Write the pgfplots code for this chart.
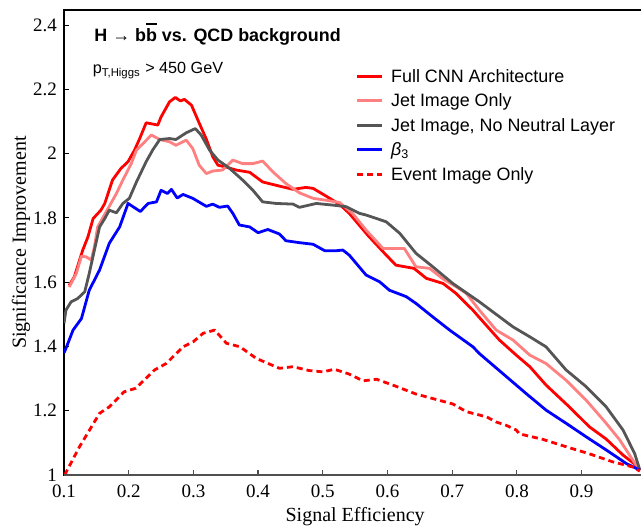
\documentclass[border=0pt]{standalone}
\usepackage{fontspec}
\setmainfont{Liberation Serif}
\newfontfamily\sans{Liberation Sans}
\usepackage{pgfplots}
\pgfplotsset{compat=1.18}
\definecolor{cred}{RGB}{255,0,0}
\definecolor{cpink}{RGB}{255,128,128}
\definecolor{cgray}{RGB}{85,85,85}
\definecolor{cblue}{RGB}{0,0,255}
\definecolor{caxis}{RGB}{80,80,80}

\begin{document}
\begin{tikzpicture}
\begin{axis}[
  scale only axis, width=291.15pt, height=232.5pt,
  xmin=0.1, xmax=1.0, ymin=1, ymax=2.447,
  xtick={0.1,0.2,0.3,0.4,0.5,0.6,0.7,0.8,0.9},
  ytick={1,1.2,1.4,1.6,1.8,2,2.2,2.4},
  xtick pos=left, ytick pos=left, tick align=inside,
  major tick length=2.5pt,
  ytick style={black, line width=0.5pt},
  xtick style={caxis, line width=0.6pt},
  axis line style={black, line width=0.6pt},
  /pgf/number format/assume math mode=true,
  tick label style={font=\fontsize{9.5}{11}\selectfont},
  xticklabel style={yshift=-1.2pt},
  xlabel={Signal Efficiency}, ylabel={Significance Improvement},
  label style={font=\fontsize{10}{12}\selectfont},
  xlabel style={at={(axis description cs:0.5,-0.0995)}, anchor=base},
  ylabel style={at={(axis description cs:-0.0738,0.5)}, anchor=center},
  legend style={at={(axis description cs:0.4997,0.8759)}, anchor=north west,
    draw=none, fill=none, inner sep=0pt, column sep=4pt,
    font=\sans\fontsize{8.95}{10}\selectfont, row sep=4.25pt,
    nodes={inner sep=0pt, text height=7pt, text depth=1pt}},
  legend cell align=left,
  legend image code/.code={\draw[#1] (0pt,0pt) -- (12.5pt,0pt);},
  every axis plot/.append style={line join=round},
]
\addplot[cred, line width=1.4pt] coordinates {
(0.108,1.590) (0.116,1.617) (0.129,1.700) (0.137,1.741) (0.145,1.798) (0.157,1.824)
(0.163,1.845) (0.175,1.918) (0.188,1.954) (0.199,1.975) (0.209,2.011) (0.217,2.047)
(0.227,2.096) (0.245,2.089) (0.250,2.114) (0.263,2.161) (0.272,2.175) (0.280,2.164)
(0.286,2.169) (0.297,2.151) (0.309,2.095) (0.320,2.045) (0.330,1.990) (0.338,1.964)
(0.351,1.958) (0.366,1.949) (0.387,1.942) (0.407,1.912) (0.433,1.899) (0.454,1.889)
(0.474,1.895) (0.485,1.892) (0.505,1.868) (0.526,1.842) (0.541,1.814) (0.554,1.783)
(0.570,1.745) (0.593,1.695) (0.613,1.653) (0.641,1.643) (0.660,1.612) (0.686,1.596)
(0.706,1.565) (0.732,1.513) (0.742,1.490) (0.773,1.420) (0.799,1.373) (0.820,1.337)
(0.845,1.280) (0.881,1.212) (0.912,1.150) (0.938,1.112) (0.964,1.062) (0.984,1.031)
(0.990,1.015)};
\addlegendentry{Full CNN Architecture}
\addplot[cpink, line width=1.4pt] coordinates {
(0.108,1.585) (0.111,1.596) (0.119,1.627) (0.127,1.681) (0.134,1.679) (0.142,1.669)
(0.147,1.710) (0.152,1.772) (0.168,1.829) (0.181,1.876) (0.191,1.918) (0.204,1.969)
(0.212,2.011) (0.222,2.031) (0.235,2.058) (0.248,2.044) (0.263,2.037) (0.273,2.026)
(0.289,2.042) (0.299,2.016) (0.309,1.964) (0.320,1.938) (0.330,1.946) (0.345,1.949)
(0.361,1.980) (0.376,1.969) (0.392,1.969) (0.407,1.977) (0.423,1.943) (0.443,1.907)
(0.464,1.878) (0.485,1.861) (0.505,1.855) (0.526,1.848) (0.546,1.814) (0.567,1.762)
(0.593,1.705) (0.626,1.705) (0.644,1.648) (0.665,1.643) (0.686,1.610) (0.706,1.586)
(0.722,1.565) (0.742,1.513) (0.768,1.451) (0.794,1.420) (0.820,1.373) (0.845,1.347)
(0.876,1.295) (0.907,1.233) (0.938,1.161) (0.959,1.109) (0.979,1.047) (0.990,1.015)};
\addlegendentry{Jet Image Only}
\addplot[cgray, line width=1.4pt] coordinates {
(0.100,1.472) (0.103,1.513) (0.111,1.539) (0.121,1.549) (0.132,1.570) (0.139,1.627)
(0.147,1.700) (0.155,1.772) (0.163,1.798) (0.170,1.824) (0.181,1.816) (0.191,1.845)
(0.201,1.861) (0.212,1.912) (0.227,1.975) (0.237,2.011) (0.248,2.044) (0.263,2.047)
(0.273,2.044) (0.289,2.065) (0.303,2.078) (0.312,2.058) (0.325,2.011) (0.338,1.980)
(0.356,1.954) (0.376,1.918) (0.392,1.886) (0.407,1.850) (0.428,1.845) (0.454,1.843)
(0.464,1.833) (0.490,1.845) (0.515,1.840) (0.536,1.835) (0.557,1.814) (0.567,1.809)
(0.598,1.788) (0.619,1.752) (0.644,1.690) (0.670,1.648) (0.701,1.596) (0.742,1.539)
(0.794,1.461) (0.820,1.430) (0.845,1.399) (0.876,1.327) (0.907,1.275) (0.938,1.212)
(0.964,1.140) (0.982,1.067) (0.990,1.016)};
\addlegendentry{Jet Image, No Neutral Layer}
\addplot[cblue, line width=1.4pt] coordinates {
(0.100,1.380) (0.103,1.394) (0.114,1.451) (0.127,1.487) (0.139,1.575) (0.155,1.638)
(0.170,1.721) (0.186,1.772) (0.199,1.845) (0.218,1.820) (0.230,1.845) (0.243,1.850)
(0.250,1.886) (0.260,1.876) (0.266,1.889) (0.275,1.862) (0.284,1.873) (0.299,1.861)
(0.320,1.836) (0.330,1.843) (0.340,1.833) (0.353,1.837) (0.361,1.814) (0.371,1.778)
(0.387,1.772) (0.400,1.754) (0.415,1.764) (0.433,1.750) (0.443,1.729) (0.464,1.723)
(0.485,1.718) (0.503,1.698) (0.521,1.698) (0.531,1.700) (0.541,1.684) (0.554,1.653)
(0.567,1.622) (0.588,1.601) (0.603,1.575) (0.629,1.555) (0.644,1.534) (0.670,1.492)
(0.696,1.451) (0.732,1.399) (0.742,1.378) (0.778,1.316) (0.814,1.254) (0.845,1.202)
(0.876,1.161) (0.907,1.119) (0.938,1.078) (0.969,1.036) (0.990,1.015)};
\addlegendentry{\textit{β}\textsubscript{3}}
\addplot[cred, line width=1.4pt, dash pattern=on 3pt off 2pt] coordinates {
(0.101,1.000) (0.124,1.088) (0.155,1.192) (0.170,1.212) (0.193,1.259) (0.211,1.270)
(0.240,1.327) (0.258,1.347) (0.284,1.399) (0.300,1.415) (0.315,1.441) (0.333,1.451)
(0.351,1.410) (0.372,1.399) (0.397,1.363) (0.433,1.332) (0.454,1.337) (0.479,1.325)
(0.500,1.321) (0.518,1.329) (0.541,1.314) (0.562,1.293) (0.583,1.298) (0.608,1.280)
(0.644,1.252) (0.701,1.221) (0.722,1.197) (0.753,1.181) (0.768,1.165) (0.783,1.155)
(0.799,1.140) (0.804,1.128) (0.840,1.111) (0.876,1.088) (0.912,1.066) (0.948,1.041)
(0.979,1.025) (0.990,1.012)};
\addlegendentry{Event Image Only}
\draw[caxis, line width=1.1pt] (rel axis cs:0,0) -- (rel axis cs:1,0);
\node[anchor=base west, inner sep=0pt, font=\sans\bfseries\fontsize{8.95}{11}\selectfont]
  at (axis description cs:0.0515,0.9318)
  {H → b\rlap{\rule[8.3pt]{5.5pt}{0.9pt}}b vs. QCD background};
\node[anchor=base west, inner sep=0pt, font=\sans\fontsize{8.1}{10}\selectfont]
  at (axis description cs:0.049,0.8624)
  {p\textsubscript{T,Higgs} > 450 GeV};
\end{axis}
\pgfresetboundingbox
\path[use as bounding box] ([shift={(-32pt,-25.5pt)}]current axis.south west)
  rectangle ([shift={(288.5pt,5pt)}]current axis.north west);
\end{tikzpicture}
\end{document}
